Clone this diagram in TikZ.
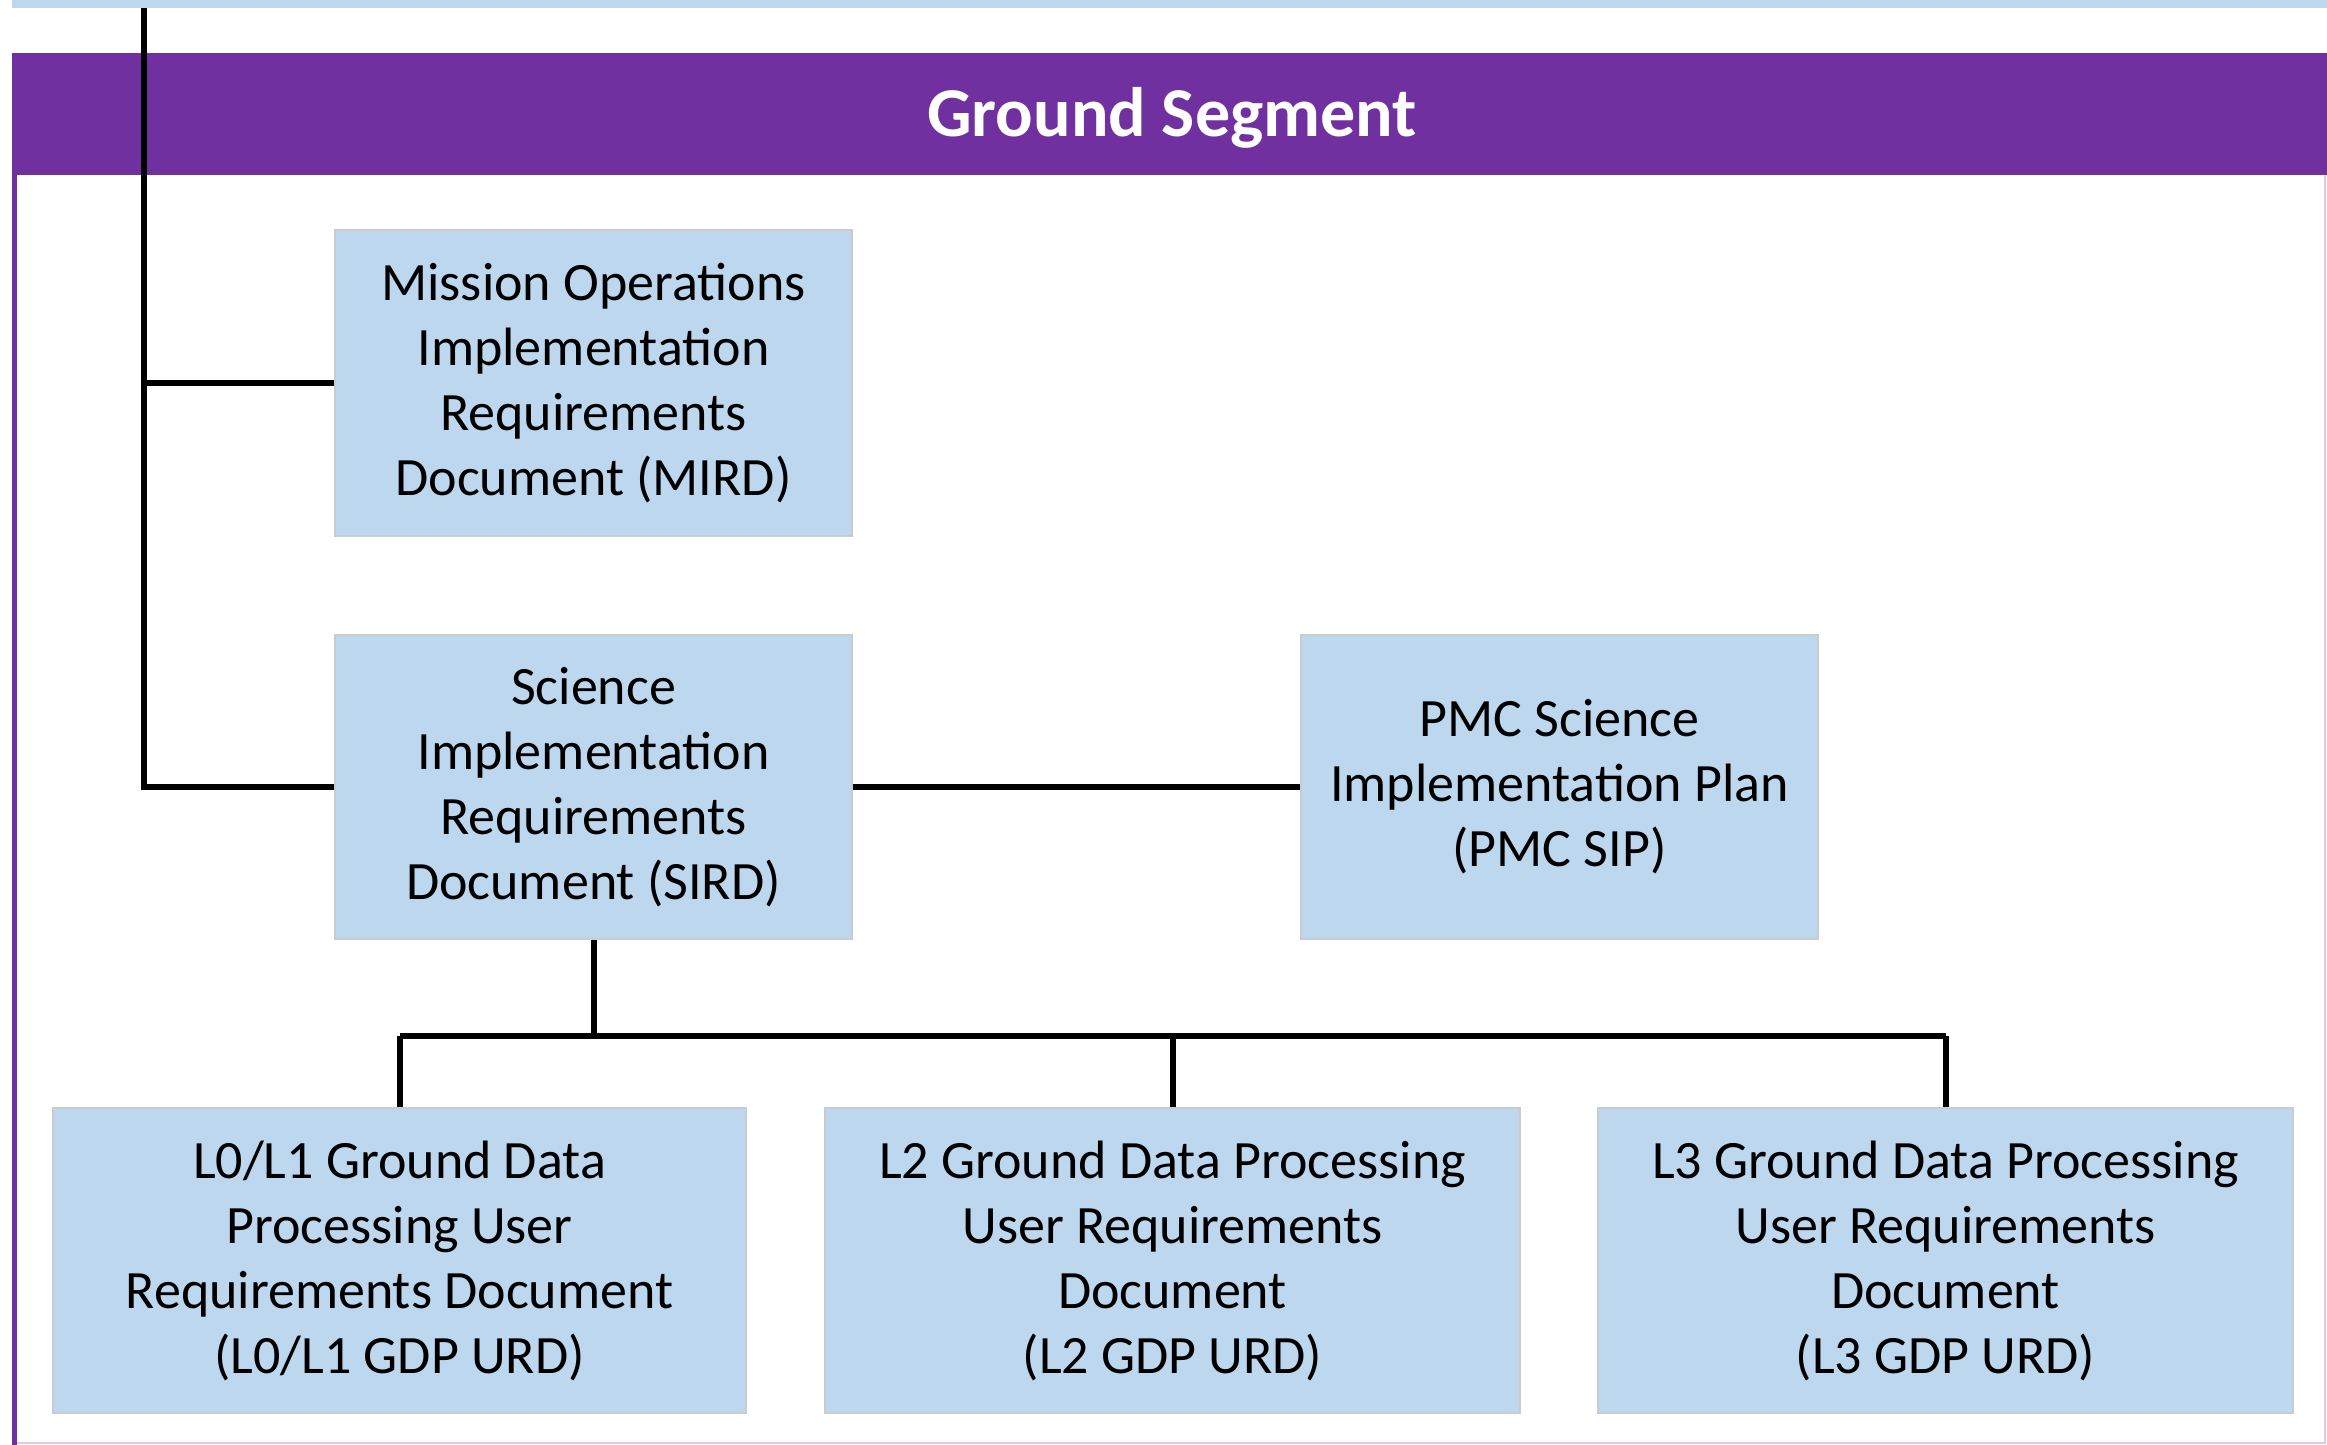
\documentclass[tikz,border=0pt]{standalone}
\usepackage{fontspec}
\setmainfont{Carlito}
\definecolor{boxblue}{HTML}{BDD7EE}
\definecolor{segpurple}{HTML}{7030A0}
\definecolor{boxedge}{HTML}{C8CCD0}
\begin{document}
\begin{tikzpicture}[x=1pt,y=-1pt,
  docbox/.style={draw=boxedge, line width=2pt, fill=boxblue, align=center, inner sep=0pt,
    font=\fontsize{54}{65}\selectfont, text=black},
  conn/.style={draw=black, line width=6pt, line cap=butt, line join=miter}]
\useasboundingbox (0,0) rectangle (2327,1445);
% top strip
\fill[boxblue] (12,0) rectangle (2327,8);
% frame
\draw[segpurple!25, line width=2pt] (15,175) -- (15,1443) -- (2325,1443) -- (2325,175);
\draw[segpurple, line width=5pt] (14,175) -- (14,1445);
% header band
\fill[segpurple] (12,53) rectangle (2327,175);
\node[inner sep=0pt, text=white, font=\bfseries\fontsize{70}{76}\selectfont, anchor=base]
  (hdr) at (1172,136) {Ground Segment};
% boxes
\node[docbox, minimum width=517pt, minimum height=306pt] (mird) at (593.5,383)
  {Mission Operations\\Implementation\\Requirements\\Document (MIRD)};
\node[docbox, minimum width=517pt, minimum height=304pt] (sird) at (593.5,787)
  {Science\\Implementation\\Requirements\\Document (SIRD)};
\node[docbox, minimum width=517pt, minimum height=304pt] (pmc) at (1559.5,787)
  {PMC Science\\Implementation Plan\\(PMC SIP)};
\node[docbox, minimum width=693pt, minimum height=305pt] (l01) at (399.5,1260.5)
  {L0/L1 Ground Data\\Processing User\\Requirements Document\\(L0/L1 GDP URD)};
\node[docbox, minimum width=695pt, minimum height=305pt] (l2) at (1172.5,1260.5)
  {L2 Ground Data Processing\\User Requirements\\Document\\(L2 GDP URD)};
\node[docbox, minimum width=695pt, minimum height=305pt] (l3) at (1945.5,1260.5)
  {L3 Ground Data Processing\\User Requirements\\Document\\(L3 GDP URD)};
% connectors
\coordinate (top) at (144,8);
\coordinate (bus) at (593.5,1036);
\draw[conn] (top) |- (sird.west);
\draw[conn] (mird.west) -- (mird.west -| top);
\draw[conn] (sird.east) -- (pmc.west);
\draw[conn] (sird.south) -- (bus);
\draw[conn] (bus -| l01.north) -- (bus -| l3.north);
\draw[conn] (bus -| l01.north) -- (l01.north);
\draw[conn] (bus -| l2.north) -- (l2.north);
\draw[conn] (bus -| l3.north) -- (l3.north);
\end{tikzpicture}
\end{document}
